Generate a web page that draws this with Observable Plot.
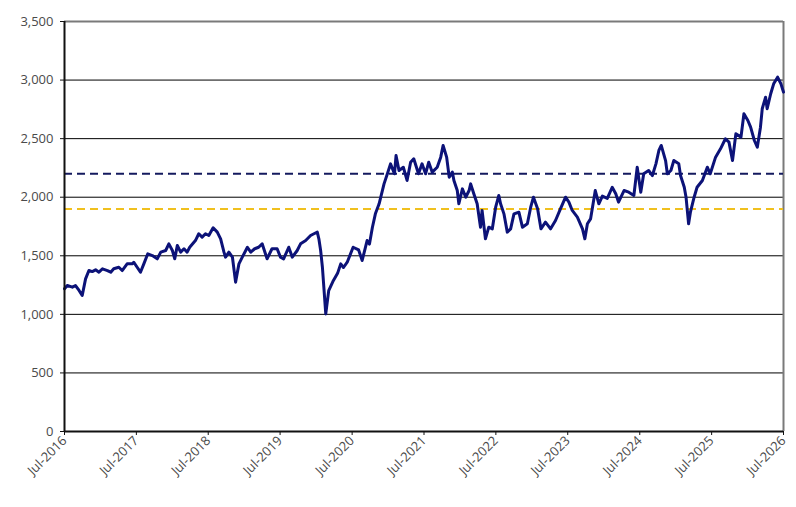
<!DOCTYPE html>
<html>
<head>
<meta charset="utf-8">
<script src="https://cdn.jsdelivr.net/npm/d3@7"></script>
<script src="https://cdn.jsdelivr.net/npm/@observablehq/plot@0.6"></script>
<style>
  html, body { margin: 0; padding: 0; background: #fff; }
</style>
</head>
<body>
<div id="chart"></div>
<script>
const dates = [
"2016-07-01","2016-07-15","2016-08-10","2016-08-26","2016-09-13","2016-09-29","2016-10-16","2016-11-02","2016-11-19","2016-12-06",
"2016-12-23","2017-01-10","2017-02-04","2017-02-21","2017-03-08","2017-04-03","2017-04-20","2017-05-15","2017-06-10","2017-06-18",
"2017-07-05","2017-07-22","2017-08-08","2017-08-28","2017-09-20","2017-10-15","2017-11-02","2017-11-27","2017-12-13","2017-12-31",
"2018-01-12","2018-01-25","2018-02-11","2018-02-28","2018-03-16","2018-03-29","2018-04-27","2018-05-14","2018-05-31","2018-06-17",
"2018-07-04","2018-07-26","2018-08-16","2018-09-02","2018-09-19","2018-09-27","2018-10-14","2018-11-01","2018-11-17","2018-12-04",
"2018-12-21","2019-01-16","2019-02-02","2019-02-22","2019-03-14","2019-04-01","2019-04-26","2019-05-21","2019-06-16","2019-07-03",
"2019-07-19","2019-08-14","2019-09-01","2019-09-26","2019-10-13","2019-11-08","2019-12-03","2019-12-20","2020-01-06","2020-01-14",
"2020-01-23",
"2020-02-01","2020-02-18","2020-03-04","2020-03-28","2020-04-18","2020-05-04","2020-05-18","2020-06-06","2020-07-06","2020-08-03",
"2020-08-21","2020-09-15","2020-09-27","2020-10-12","2020-10-27","2020-11-15","2020-12-10","2020-12-27","2021-01-12","2021-02-01",
"2021-02-09","2021-02-24","2021-03-18","2021-04-06","2021-04-24","2021-05-10","2021-06-03","2021-06-21","2021-07-09","2021-07-25",
"2021-08-12","2021-09-06","2021-09-24","2021-10-06","2021-10-24","2021-11-06",
"2021-11-22","2021-11-30","2021-12-17","2021-12-25","2022-01-12","2022-01-29","2022-02-15","2022-02-23","2022-03-11","2022-03-28",
"2022-04-14","2022-04-22","2022-05-09","2022-05-26","2022-06-13","2022-06-30","2022-07-16","2022-07-25","2022-08-11","2022-08-28",
"2022-09-14","2022-10-01","2022-10-26","2022-11-13","2022-12-08","2022-12-25","2023-01-08","2023-01-29","2023-02-15","2023-03-10",
"2023-04-05","2023-04-30","2023-05-25","2023-06-20","2023-07-07","2023-07-24","2023-08-19","2023-09-14","2023-09-26","2023-10-09",
"2023-10-25",
"2023-11-18","2023-12-06","2023-12-24","2024-01-18","2024-02-12","2024-03-01","2024-03-15","2024-04-12","2024-05-06","2024-06-01",
"2024-06-18","2024-07-06","2024-07-21","2024-08-15","2024-09-03","2024-09-21","2024-10-06","2024-10-18","2024-11-09","2024-11-18",
"2024-12-06","2024-12-21","2025-01-15","2025-01-24","2025-02-12","2025-02-21","2025-03-06","2025-03-15","2025-04-03","2025-04-18",
"2025-05-15","2025-06-09","2025-06-24","2025-07-21","2025-08-15","2025-09-09","2025-09-27","2025-10-15","2025-11-01","2025-11-27",
"2025-12-12","2026-01-01","2026-01-15","2026-02-03","2026-02-18","2026-03-06","2026-03-15","2026-04-01","2026-04-09","2026-04-27",
"2026-05-12","2026-06-01","2026-06-18","2026-07-01"
];
const values = [
1218,1246,1232,1246,1204,1161,1303,1374,1365,1380,
1360,1389,1374,1360,1389,1402,1374,1431,1431,1445,
1402,1360,1431,1517,1502,1474,1531,1545,1602,1545,
1474,1588,1531,1560,1531,1573,1630,1688,1659,1688,
1673,1739,1702,1645,1531,1488,1531,1488,1275,1431,
1488,1573,1531,1560,1573,1602,1474,1560,1560,1488,
1474,1573,1488,1545,1602,1630,1673,1688,1702,1645,
1545,
1402,1004,1203,1290,1350,1431,1400,1445,1573,1550,
1460,1630,1600,1744,1858,1944,2114,2200,2285,2200,
2356,2228,2256,2143,2299,2328,2200,2285,2200,2299,
2214,2256,2342,2442,2342,2171,
2214,2143,2057,1944,2071,2000,2057,2114,2029,1944,
1744,1887,1645,1744,1730,1915,2015,1944,1858,1702,
1730,1858,1872,1744,1773,1915,2000,1901,1730,1787,
1730,1801,1901,2000,1958,1887,1830,1730,1645,1773,
1815,
2057,1944,2010,1990,2085,2030,1958,2057,2043,2015,
2256,2043,2200,2228,2185,2285,2399,2442,2313,2200,
2228,2313,2285,2185,2085,2000,1773,1870,2000,2085,
2143,2256,2200,2342,2413,2499,2470,2313,2541,2513,
2712,2655,2598,2484,2427,2598,2755,2854,2755,2883,
2968,3025,2968,2897
];
const yTicks = [0, 500, 1000, 1500, 2000, 2500, 3000, 3500];
const xTickDates = ["2016-07-01","2017-07-01","2018-07-01","2019-07-01","2020-07-01","2021-07-01","2022-07-01","2023-07-01","2024-07-01","2025-07-01","2026-07-01"];
const levelHigh = [2200];
const levelLow = [1900];

const data = dates.map((d, i) => ({date: new Date(d), value: values[i]}));
const xTicks = xTickDates.map(d => new Date(d));
const xStart = xTicks[0], xEnd = xTicks[xTicks.length - 1];

const chart = Plot.plot({
  width: 796,
  height: 507,
  marginLeft: 64,
  marginRight: 13,
  marginTop: 21,
  marginBottom: 76,
  style: {fontFamily: "'Open Sans', sans-serif", fontSize: "13px", color: "#4a4a4a", background: "#fff", overflow: "visible"},
  x: {type: "utc", domain: [xStart, xEnd]},
  y: {domain: [0, 3500]},
  marks: [
    Plot.ruleY(yTicks.slice(1, -1), {stroke: "#000", strokeWidth: 1}),
    Plot.ruleY([yTicks[yTicks.length - 1]], {stroke: "#7a7a7a", strokeWidth: 2}),
    Plot.ruleX([xEnd], {stroke: "#7a7a7a", strokeWidth: 2}),
    Plot.ruleY(levelHigh, {stroke: "#141a5e", strokeWidth: 2, strokeDasharray: "8,5"}),
    Plot.ruleY(levelLow, {stroke: "#f0c01e", strokeWidth: 2, strokeDasharray: "8,5"}),
    Plot.line(data, {x: "date", y: "value", stroke: "#0c1278", strokeWidth: 3, strokeLinejoin: "round"}),
    Plot.ruleX([xStart], {stroke: "#111", strokeWidth: 2}),
    Plot.ruleY([0], {stroke: "#111", strokeWidth: 2}),
    Plot.axisY({ticks: yTicks, tickFormat: d3.format(","), tickSize: 4, tickPadding: 7, label: null, stroke: "#111"}),
    Plot.axisX({ticks: xTicks, tickFormat: d3.utcFormat("%b-%Y"), tickRotate: -45, tickSize: 4, tickPadding: 3, label: null, stroke: "#111"})
  ]
});
document.getElementById("chart").appendChild(chart);
</script>
</body>
</html>
